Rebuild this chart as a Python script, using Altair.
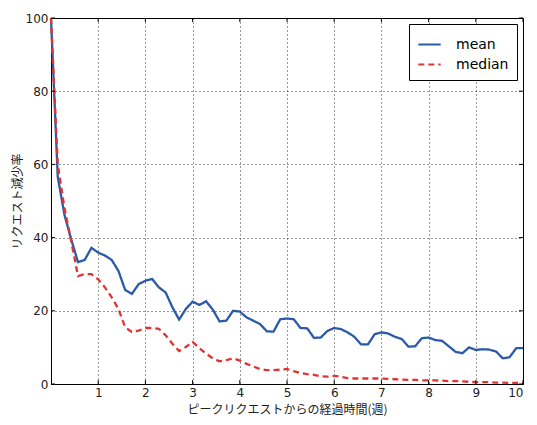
import altair as alt
import pandas as pd

# weeks since peak (daily steps, 0..70 days)
days = list(range(71))
mean_vals = [100, 56.6, 46.2, 39.5, 33.3, 33.9, 37.2, 35.9, 35.1, 33.9,
             30.9, 25.7, 24.6, 27.3, 28.2, 28.7, 26.4, 25.0, 21.0, 17.6,
             20.5, 22.5, 21.6, 22.6, 20.3, 17.1, 17.3, 20.0, 19.8, 18.2,
             17.3, 16.4, 14.4, 14.3, 17.7, 17.9, 17.7, 15.3, 15.2, 12.6,
             12.7, 14.5, 15.3, 15.0, 14.1, 12.9, 10.8, 10.8, 13.6, 14.1,
             13.8, 12.9, 12.3, 10.2, 10.3, 12.5, 12.7, 12.0, 11.8, 10.3,
             8.8, 8.4, 10.0, 9.3, 9.5, 9.4, 8.9, 7.0, 7.3, 9.8, 9.8]
median_vals = [100, 60.0, 48.0, 39.0, 29.5, 30.0, 30.0, 28.6, 26.4, 23.7,
               20.5, 15.5, 14.2, 14.6, 15.3, 15.3, 15.1, 13.3, 11.0, 9.0,
               10.1, 11.5, 9.8, 8.3, 7.0, 6.2, 6.5, 7.0, 6.4, 5.5,
               4.8, 4.1, 3.8, 3.8, 3.9, 4.1, 3.5, 3.0, 2.7, 2.5,
               2.1, 2.0, 2.2, 2.0, 1.6, 1.5, 1.5, 1.5, 1.5, 1.5,
               1.4, 1.3, 1.2, 1.1, 1.1, 1.0, 1.0, 1.0, 0.9, 0.8,
               0.8, 0.7, 0.6, 0.5, 0.5, 0.5, 0.4, 0.4, 0.3, 0.3, 0.3]
series_names = ["mean", "median"]
series_colors = ["#2b5aa6", "#e03434"]
x_ticks = [1, 2, 3, 4, 5, 6, 7, 8, 9, 10]
y_ticks = [0, 20, 40, 60, 80, 100]

W, H = 472, 366

rows = []
for d, m, md in zip(days, mean_vals, median_vals):
    rows.append({"week": d / 7, "value": m, "series": "mean"})
    rows.append({"week": d / 7, "value": md, "series": "median"})
df = pd.DataFrame(rows)

xscale = alt.Scale(domain=[0, 10], nice=False)
yscale = alt.Scale(domain=[0, 100], nice=False)

lines = alt.Chart(df).mark_line(strokeWidth=2.3).encode(
    x=alt.X("week:Q", scale=xscale,
            axis=alt.Axis(values=x_ticks, title="ピークリクエストからの経過時間(週)",
                          grid=True, ticks=False)),
    y=alt.Y("value:Q", scale=yscale,
            axis=alt.Axis(values=y_ticks, title="リクエスト減少率", grid=True, ticks=False)),
    color=alt.Color("series:N", scale=alt.Scale(domain=series_names, range=series_colors),
                    legend=alt.Legend(title=None, orient="top-right", offset=6,
                                      strokeColor="black", fillColor="white",
                                      padding=8, symbolType="stroke", symbolSize=500,
                                      symbolStrokeWidth=2, labelFontSize=14,
                                      labelFont="DejaVu Sans", labelColor="black",
                                      rowPadding=0, cornerRadius=0, labelOffset=14)),
    strokeDash=alt.StrokeDash("series:N",
                              scale=alt.Scale(domain=series_names, range=[[1, 0], [6, 4]]),
                              legend=None),
)

xt = pd.DataFrame({"t": x_ticks})
yt = pd.DataFrame({"t": y_ticks})
tick_style = dict(color="black", strokeWidth=1)
bottom = alt.Chart(xt).mark_rule(**tick_style).encode(
    x=alt.X("t:Q", scale=xscale), y=alt.value(H), y2=alt.value(H - 4))
top = alt.Chart(xt).mark_rule(**tick_style).encode(
    x=alt.X("t:Q", scale=xscale), y=alt.value(0), y2=alt.value(4))
left = alt.Chart(yt).mark_rule(**tick_style).encode(
    y=alt.Y("t:Q", scale=yscale), x=alt.value(0), x2=alt.value(4))
right = alt.Chart(yt).mark_rule(**tick_style).encode(
    y=alt.Y("t:Q", scale=yscale), x=alt.value(W), x2=alt.value(W - 4))

chart = alt.layer(lines, bottom, top, left, right).properties(
    width=W, height=H,
    autosize=alt.AutoSizeParams(type="none"),
    padding={"left": 43, "top": 10, "right": 6, "bottom": 33},
).configure_view(
    stroke="black", strokeWidth=1
).configure_axis(
    domainColor="black",
    labelFont="DejaVu Sans", labelFontSize=12, labelColor="#222222",
    titleFont="Noto Sans CJK JP", titleFontSize=12, titleFontWeight="normal",
    titleColor="#222222",
    gridColor="black", gridDash=[1, 3], gridOpacity=0.8, gridWidth=1,
    labelPadding=3,
).configure_axisX(
    titlePadding=6
).configure_axisY(
    titlePadding=1
)

chart.save("out.html", embed_options={"renderer": "svg", "actions": False})
